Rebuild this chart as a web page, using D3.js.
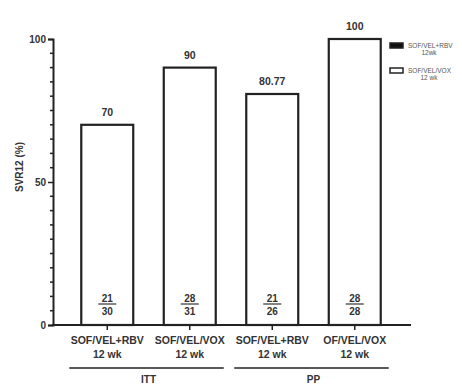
<!DOCTYPE html>
<html>
<head>
<meta charset="utf-8">
<script src="https://cdn.jsdelivr.net/npm/d3@7"></script>
<style>
  html, body { margin: 0; padding: 0; background: #fff; }
  svg { display: block; font-family: "Liberation Sans", Arial, sans-serif; }
</style>
</head>
<body>
<svg id="chart" width="462" height="385"></svg>
<script>
// SVR12 rates by regimen and analysis population
const categories = ["SOF/VEL+RBV|12 wk", "SOF/VEL/VOX|12 wk", "SOF/VEL+RBV |12 wk", "OF/VEL/VOX|12 wk"];
const values = [70, 90, 80.77, 100];
const valueLabels = ["70", "90", "80.77", "100"];
const numerators = [21, 28, 21, 28];
const denominators = [30, 31, 26, 28];
const groups = [
  { name: "ITT", first: 0, last: 1 },
  { name: "PP", first: 2, last: 3 }
];
const yTicks = [0, 50, 100];
const legendItems = [
  { lines: ["SOF/VEL+RBV", "12wk"], fill: "#111" },
  { lines: ["SOF/VEL/VOX", "12 wk"], fill: "#fff" }
];

const svg = d3.select("#chart");
const ink = "#222";
const textCol = "#333";

const x = d3.scaleBand().domain(categories).range([66, 396]).paddingInner(0.37).paddingOuter(0.185);
const y = d3.scaleLinear().domain([0, 100]).range([325, 39]);
const axisLeftX = 53, axisRightX = 411;

// bars
svg.append("g").selectAll("rect").data(categories).join("rect")
  .attr("x", d => x(d))
  .attr("y", (d, i) => y(values[i]))
  .attr("width", x.bandwidth())
  .attr("height", (d, i) => y(0) - y(values[i]))
  .attr("fill", "#fff").attr("stroke", ink).attr("stroke-width", 2.2);

// value labels above bars
svg.append("g").selectAll("text").data(categories).join("text")
  .attr("x", d => x(d) + x.bandwidth() / 2)
  .attr("y", (d, i) => y(values[i]) - 9)
  .attr("text-anchor", "middle")
  .attr("font-size", 10.5).attr("font-weight", "bold").attr("fill", textCol)
  .text((d, i) => valueLabels[i]);

// patient fractions inside bars
const frac = svg.append("g").selectAll("g").data(categories).join("g")
  .attr("transform", d => `translate(${x(d) + x.bandwidth() / 2},0)`);
frac.append("text").attr("y", 301.5).attr("text-anchor", "middle")
  .attr("font-size", 10).attr("font-weight", "bold").attr("fill", textCol)
  .text((d, i) => numerators[i]);
frac.append("line").attr("x1", -9).attr("x2", 9).attr("y1", 304).attr("y2", 304)
  .attr("stroke", textCol).attr("stroke-width", 1.2);
frac.append("text").attr("y", 314.5).attr("text-anchor", "middle")
  .attr("font-size", 10).attr("font-weight", "bold").attr("fill", textCol)
  .text((d, i) => denominators[i]);

// y axis
const yAxis = svg.append("g").attr("transform", `translate(${axisLeftX},0)`)
  .call(d3.axisLeft(y).tickValues(yTicks).tickSize(5).tickPadding(2));
yAxis.select(".domain").attr("stroke", ink).attr("stroke-width", 2);
yAxis.selectAll(".tick line").attr("stroke", ink).attr("stroke-width", 1.5);
yAxis.selectAll(".tick text").attr("font-size", 10).attr("font-weight", "bold").attr("fill", textCol)
  .attr("font-family", "Liberation Sans, Arial, sans-serif");
// minor ticks
svg.append("g").selectAll("line").data(d3.range(0, 101, 5).filter(v => v % 50 !== 0)).join("line")
  .attr("x1", axisLeftX - 3).attr("x2", axisLeftX).attr("y1", d => y(d)).attr("y2", d => y(d))
  .attr("stroke", ink).attr("stroke-width", 1.5);

// x axis baseline with centre ticks
svg.append("line").attr("x1", axisLeftX - 1).attr("x2", axisRightX).attr("y1", y(0)).attr("y2", y(0))
  .attr("stroke", ink).attr("stroke-width", 2);
svg.append("g").selectAll("line").data(categories).join("line")
  .attr("x1", d => x(d) + x.bandwidth() / 2).attr("x2", d => x(d) + x.bandwidth() / 2)
  .attr("y1", y(0)).attr("y2", y(0) + 5)
  .attr("stroke", ink).attr("stroke-width", 1.5);

// category labels
const cl = svg.append("g").selectAll("text").data(categories).join("text")
  .attr("text-anchor", "middle").attr("font-size", 10.5).attr("font-weight", "bold").attr("fill", textCol);
cl.append("tspan").attr("x", d => x(d) + x.bandwidth() / 2).attr("y", 344).text(d => d.split("|")[0].trim());
cl.append("tspan").attr("x", d => x(d) + x.bandwidth() / 2).attr("y", 358).text(d => d.split("|")[1]);

// group brackets
const gg = svg.append("g").selectAll("g").data(groups).join("g");
gg.append("line")
  .attr("x1", d => x(categories[d.first]) - 12)
  .attr("x2", d => x(categories[d.last]) + x.bandwidth() + 8)
  .attr("y1", 368).attr("y2", 368)
  .attr("stroke", ink).attr("stroke-width", 1.5);
gg.append("text")
  .attr("x", d => (x(categories[d.first]) + x(categories[d.last]) + x.bandwidth()) / 2)
  .attr("y", 383).attr("text-anchor", "middle")
  .attr("font-size", 10).attr("font-weight", "bold").attr("fill", textCol)
  .text(d => d.name);

// y axis title
svg.append("text")
  .attr("transform", "translate(23,167) rotate(-90)")
  .attr("text-anchor", "middle").attr("font-size", 10).attr("font-weight", "bold").attr("fill", textCol)
  .text("SVR12 (%)");

// legend
const lg = svg.append("g").selectAll("g").data(legendItems).join("g")
  .attr("transform", (d, i) => `translate(390,${43 + i * 25})`);
lg.append("rect").attr("width", 13).attr("height", 5)
  .attr("fill", d => d.fill).attr("stroke", ink).attr("stroke-width", 1.5);
lg.append("text").attr("font-size", 6.5).attr("fill", "#555")
  .selectAll("tspan").data(d => d.lines).join("tspan")
  .attr("x", (d, i) => i === 0 ? 18 : 39).attr("y", (d, i) => 5 + i * 7)
  .attr("text-anchor", (d, i) => i === 0 ? "start" : "middle")
  .text(d => d);
</script>
</body>
</html>
